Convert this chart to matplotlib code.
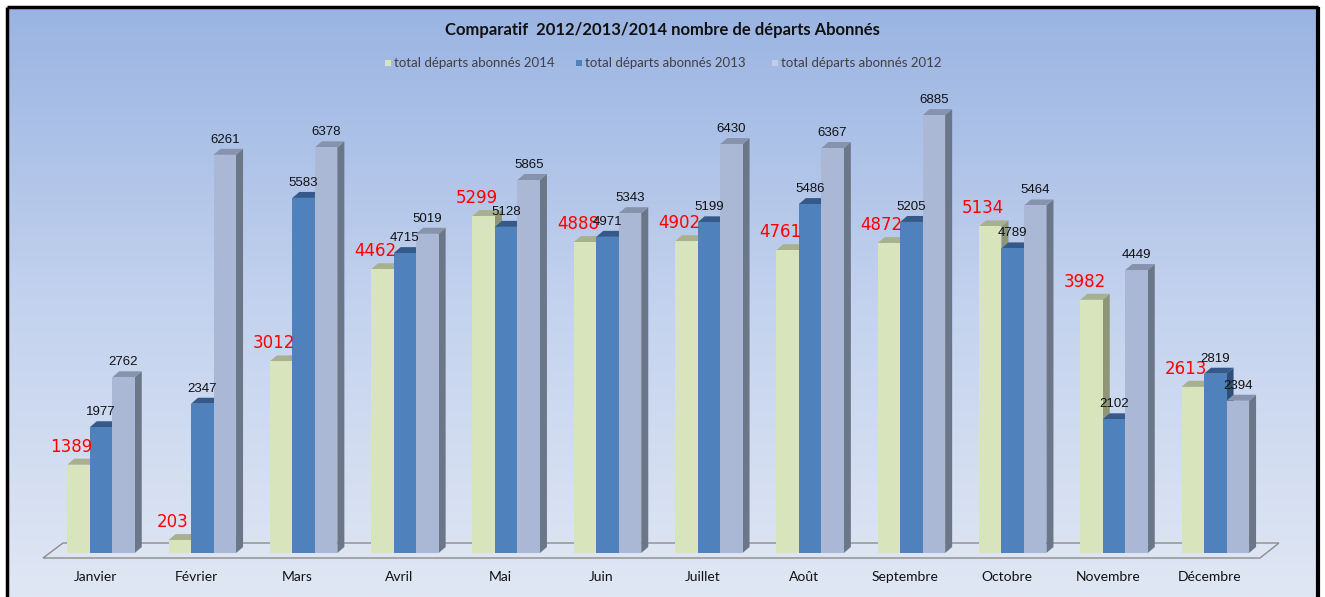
import numpy as np
import matplotlib
matplotlib.use("Agg")
import matplotlib.pyplot as plt
from matplotlib.colors import LinearSegmentedColormap

months = ["Janvier", "Février", "Mars", "Avril", "Mai", "Juin", "Juillet",
          "Août", "Septembre", "Octobre", "Novembre", "Décembre"]
v2014 = [1389, 203, 3012, 4462, 5299, 4888, 4902, 4761, 4872, 5134, 3982, 2613]
v2013 = [1977, 2347, 5583, 4715, 5128, 4971, 5199, 5486, 5205, 4789, 2102, 2819]
v2012 = [2762, 6261, 6378, 5019, 5865, 5343, 6430, 6367, 6885, 5464, 4449, 2394]
labels = ["total départs abonnés 2014", "total départs abonnés 2013", "total départs abonnés 2012"]
title = "Comparatif  2012/2013/2014 nombre de départs Abonnés"

plt.rcParams['font.family'] = ['Lato', 'DejaVu Sans']

W, H = 1325, 597
fig = plt.figure(figsize=(W / 100, H / 100), dpi=100)
ax = fig.add_axes([0, 0, 1, 1])

# pixel mapping helpers (layout only)
base_px = 553.0
scale = 0.0636          # px per unit
x0_px, step_px = 101.0, 101.3
xlim = (-x0_px / step_px, (W - x0_px) / step_px)
ylim = ((base_px - H) / scale, base_px / scale)
ax.set_xlim(*xlim)
ax.set_ylim(*ylim)
ax.axis('off')

def px_x(px):
    return (px - x0_px) / step_px

def px_y(py):
    return (base_px - py) / scale

# background gradient inside the border (dark blue at top, pale at bottom)
cmap = LinearSegmentedColormap.from_list("bg", ["#9ab4e2", "#c3d2ee", "#e0e7f4"])
grad = np.linspace(0, 1, 256).reshape(-1, 1)
ax.imshow(grad, cmap=cmap, aspect='auto', zorder=0, origin='upper',
          extent=[px_x(8), px_x(1317), px_y(597), px_y(7)])
ax.set_xlim(*xlim)
ax.set_ylim(*ylim)

# border
ax.plot([px_x(7), px_x(7)], [px_y(597), px_y(7)], color='black', lw=2.5, zorder=10, solid_capstyle='butt')
ax.plot([px_x(7), px_x(1318)], [px_y(7), px_y(7)], color='black', lw=2.5, zorder=10, solid_capstyle='butt')
ax.plot([px_x(1318), px_x(1318)], [px_y(597), px_y(7)], color='black', lw=3, zorder=10, solid_capstyle='butt')

# floor
fx = [px_x(43), px_x(1260), px_x(1279), px_x(63)]
fy = [px_y(558), px_y(558), px_y(543), px_y(543)]
ax.fill(fx, fy, facecolor='#dde4f2', edgecolor='#8c8c8c', lw=1.0, zorder=1)

bw = 22.5 / step_px
dx = 7 / step_px
dy = 6 / scale

series = [v2014, v2013, v2012]
front = ["#d7e4bc", "#4f81bd", "#aab8d6"]
top = ["#a8b08e", "#34598a", "#8793ac"]
side = ["#8e9677", "#2e4f7c", "#6b7689"]

x = np.arange(len(months))
offsets = [-bw, 0, bw]
z = 2
for i in range(len(months)):
    for s in range(3):
        v = series[s][i]
        xl = x[i] + offsets[s] - bw / 2
        xr = xl + bw
        ax.fill([xr, xr + dx, xr + dx, xr], [0, dy, v + dy, v],
                facecolor=side[s], edgecolor='none', zorder=z)
        ax.fill([xl, xr, xr + dx, xl + dx], [v, v, v + dy, v + dy],
                facecolor=top[s], edgecolor='none', zorder=z)
        ax.bar(xl, v, width=bw, align='edge', color=front[s], zorder=z + 0.5, linewidth=0)
        z += 1

# value labels
for i in range(len(months)):
    for s in range(3):
        v = series[s][i]
        xc = x[i] + offsets[s]
        if s == 0:
            ax.text(xc - 0.07, v + 9 / scale, str(v), color='#ff0000', fontsize=12,
                    ha='center', va='bottom', zorder=200, family=['DejaVu Sans'])
        else:
            ax.text(xc, v + 9 / scale, str(v), color='#111111', fontsize=9.5,
                    ha='center', va='bottom', zorder=200, family=['Liberation Sans', 'DejaVu Sans'])

# month labels
for i, m in enumerate(months):
    ax.text(x[i] - 6 / step_px, px_y(577), m, ha='center', va='center', fontsize=10,
            color='#111111', zorder=200)

# title
ax.text(px_x(662), px_y(30), title, ha='center', va='center', fontsize=12, fontweight='bold',
        color='#111111', zorder=200)

# legend
leg_sq = [388, 579, 775]
leg_col = ["#d7e4bc", "#4f81bd", "#c3cde3"]
for k in range(3):
    ax.scatter([px_x(leg_sq[k])], [px_y(63)], marker='s', s=24, color=leg_col[k],
               zorder=200, linewidths=0)
    ax.text(px_x(leg_sq[k] + 6), px_y(63), labels[k], ha='left', va='center', fontsize=9.5,
            color='#404040', zorder=200)

fig.savefig("out.png", dpi=100)
